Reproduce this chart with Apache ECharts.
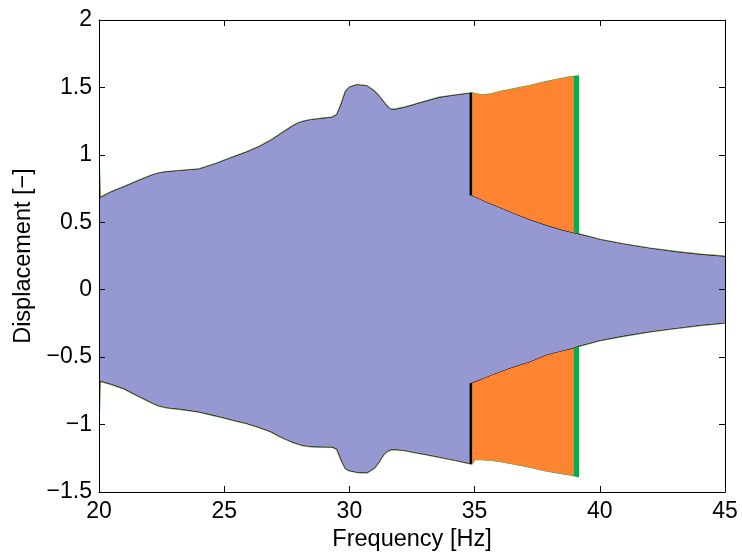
<!DOCTYPE html>
<html>
<head>
<meta charset="utf-8">
<script src="https://cdn.jsdelivr.net/npm/echarts@6/dist/echarts.min.js"></script>
<style>
  html, body { margin: 0; padding: 0; background: #ffffff; }
  #chart { width: 742px; height: 557px; }
</style>
</head>
<body>
<div id="chart"></div>
<script>
// Upper (large-amplitude) response branch: envelope of the sweep, frequency in Hz
const highFreq = [20.00, 20.03, 20.5, 21.0, 21.6, 22.15, 22.4, 22.7, 23.3, 24.0, 24.7, 25.35, 25.9, 26.4,
  26.85, 27.2, 27.5, 27.75, 28.0, 28.15, 28.4, 28.7, 29.0, 29.3, 29.5, 29.7, 29.85, 30.0, 30.3, 30.7,
  31.0, 31.2, 31.35, 31.5, 31.65, 31.8, 32.2, 32.6, 33.1, 33.6, 34.2, 34.8, 34.88, 35.0, 35.3, 35.6,
  36.0, 36.6, 37.2, 37.8, 38.3, 38.8, 38.93, 39.13];
const highTop = [0.90, 0.68, 0.725, 0.762, 0.81, 0.85, 0.863, 0.873, 0.882, 0.893, 0.935, 0.982, 1.02, 1.06,
  1.105, 1.147, 1.185, 1.214, 1.238, 1.246, 1.256, 1.264, 1.27, 1.277, 1.295, 1.385, 1.47, 1.50, 1.518, 1.51,
  1.47, 1.43, 1.394, 1.36, 1.336, 1.335, 1.35, 1.372, 1.398, 1.424, 1.44, 1.455, 1.458, 1.45, 1.442, 1.446,
  1.465, 1.487, 1.51, 1.537, 1.556, 1.574, 1.577, 1.582];
const highBottom = [-0.90, -0.675, -0.70, -0.733, -0.79, -0.84, -0.86, -0.873, -0.885, -0.905, -0.935, -0.966, -0.99, -1.02,
  -1.05, -1.085, -1.11, -1.13, -1.145, -1.153, -1.16, -1.163, -1.164, -1.165, -1.18, -1.27, -1.325, -1.34, -1.352, -1.355,
  -1.32, -1.27, -1.225, -1.198, -1.185, -1.183, -1.19, -1.205, -1.222, -1.24, -1.262, -1.287, -1.29, -1.255, -1.256, -1.26,
  -1.27, -1.29, -1.312, -1.338, -1.354, -1.37, -1.374, -1.383];

// Lower (small-amplitude) branch reached after the jump down
const lowFreq = [34.80, 34.88, 35.2, 35.5, 35.9, 36.5, 37.2, 37.9, 38.5, 38.93, 39.13, 39.6, 40.0, 41.0, 42.0, 43.0, 44.0, 45.0];
const lowTop = [0.70, 0.697, 0.67, 0.645, 0.615, 0.568, 0.517, 0.473, 0.44, 0.42, 0.412, 0.39, 0.37, 0.335, 0.305, 0.28, 0.26, 0.245];
const lowBottom = [-0.695, -0.69, -0.668, -0.645, -0.615, -0.575, -0.534, -0.48, -0.452, -0.433, -0.418, -0.395, -0.375, -0.34, -0.31, -0.285, -0.262, -0.245];

// Individual runs: frequency at which each run drops to the lower branch
const runNames = ['run 1', 'run 2', 'run 3', 'run 4'];
const runJumps = [39.13, 38.93, 34.88, 34.80];
const runColors = ['#00B050', '#FE8431', '#000000', '#9699D1'];
const runEdge = [2.2, 1.6, 1.0, 0];

// Axis ticks
const xTicks = [20, 25, 30, 35, 40, 45];
const yTicks = [-1.5, -1, -0.5, 0, 0.5, 1, 1.5, 2];

// Closed outline of the band swept by one run (top edge left->right, bottom edge right->left)
function bandOutline(jump) {
  const top = [], bottom = [];
  highFreq.forEach((f, i) => {
    if (f <= jump) { top.push([f, highTop[i]]); bottom.push([f, highBottom[i]]); }
  });
  lowFreq.forEach((f, i) => {
    if (f >= jump) { top.push([f, lowTop[i]]); bottom.push([f, lowBottom[i]]); }
  });
  return top.concat(bottom.reverse());
}

const FONT = "'Liberation Sans', Arial, Helvetica, sans-serif";
const minus = v => String(v).replace('-', '\u2212');

function axisCommon(extra) {
  return Object.assign({
    type: 'value',
    axisLine: { show: true, onZero: false, lineStyle: { color: '#000000', width: 1 } },
    axisTick: { show: true, inside: true, length: 6, lineStyle: { color: '#000000', width: 1 } },
    splitLine: { show: false },
    z: 10
  }, extra);
}

const xStep = xTicks[1] - xTicks[0];
const yStep = yTicks[1] - yTicks[0];

const chart = echarts.init(document.getElementById('chart'), null, { renderer: 'canvas' });
chart.setOption({
  animation: false,
  backgroundColor: '#ffffff',
  grid: { left: 99, right: 17, top: 20, bottom: 65, containLabel: false, outerBoundsMode: 'none' },
  xAxis: [
    axisCommon({
      position: 'bottom', min: xTicks[0], max: xTicks[xTicks.length - 1], interval: xStep,
      axisLabel: { color: '#000000', fontSize: 23, fontFamily: FONT, margin: 8, formatter: minus },
      name: 'Frequency [Hz]', nameLocation: 'middle', nameGap: 30,
      nameTextStyle: { color: '#000000', fontSize: 23.5, fontFamily: FONT }
    }),
    axisCommon({
      position: 'top', min: xTicks[0], max: xTicks[xTicks.length - 1], interval: xStep,
      axisLabel: { show: false }
    })
  ],
  yAxis: [
    axisCommon({
      position: 'left', min: yTicks[0], max: yTicks[yTicks.length - 1], interval: yStep,
      axisLabel: { color: '#000000', fontSize: 23, fontFamily: FONT, margin: 7, formatter: minus },
      name: 'Displacement [\u2212]', nameLocation: 'middle', nameGap: 62,
      nameTextStyle: { color: '#000000', fontSize: 23.5, fontFamily: FONT }
    }),
    axisCommon({
      position: 'right', min: yTicks[0], max: yTicks[yTicks.length - 1], interval: yStep,
      axisLabel: { show: false }
    })
  ],
  series: runNames.map((name, k) => {
    const outline = bandOutline(runJumps[k]);
    const color = runColors[k];
    const edge = runEdge[k];
    return {
      type: 'custom',
      name: name,
      xAxisIndex: 0,
      yAxisIndex: 0,
      data: outline,
      silent: true,
      clip: true,
      renderItem: function (params, api) {
        if (params.dataIndex !== 0) return null;
        const pts = outline.map(p => api.coord(p));
        return {
          type: 'polygon',
          shape: { points: pts },
          style: {
            fill: color,
            stroke: edge > 0 ? color : null,
            lineWidth: edge,
            lineJoin: 'round'
          }
        };
      }
    };
  })
});
</script>
</body>
</html>
